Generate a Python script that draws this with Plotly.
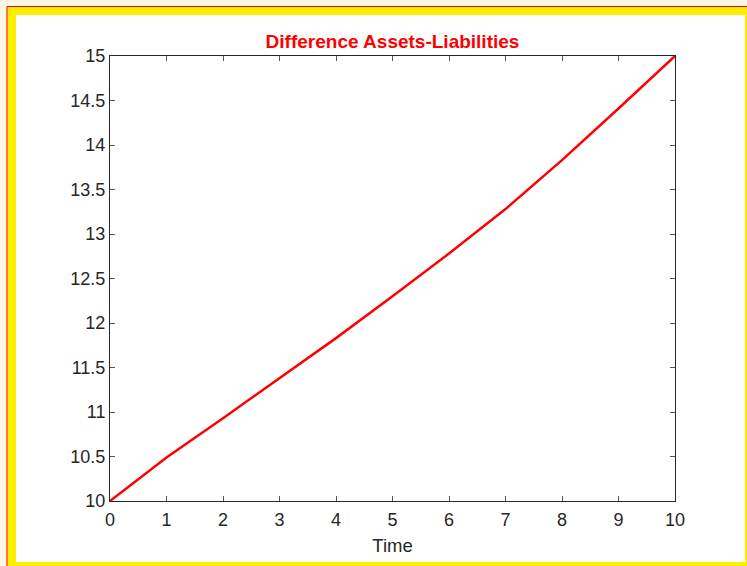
import plotly.graph_objects as go

# Difference between assets and liabilities over time
time = [0, 1, 2, 3, 4, 5, 6, 7, 8, 9, 10]
difference = [10.0, 10.49, 10.93, 11.38, 11.83, 12.30, 12.78, 13.28, 13.83, 14.41, 15.0]

x_ticks = list(range(0, 11))
y_ticks = [10, 10.5, 11, 11.5, 12, 12.5, 13, 13.5, 14, 14.5, 15]
y_tick_text = ["10", "10.5", "11", "11.5", "12", "12.5", "13", "13.5", "14", "14.5", "15"]

W, H = 747, 566
L, R, T, B = 110, 72, 56, 65
PW, PH = W - L - R, H - T - B
FONT = "Liberation Sans, Arial, sans-serif"


def px(x):
    return (x - L) / PW


def py(y):
    return (H - B - y) / PH


fig = go.Figure()
fig.add_trace(go.Scatter(
    x=time, y=difference, mode="lines",
    line=dict(color="#ff0000", width=2.5),
    showlegend=False,
))

axis_common = dict(
    showgrid=False, zeroline=False,
    showline=True, linecolor="#262626", linewidth=1,
    mirror="allticks", ticks="inside", ticklen=5, tickcolor="#555555",
    tickfont=dict(family=FONT, size=18, color="#262626"),
)

fig.update_layout(
    width=W, height=H,
    margin=dict(l=L, r=R, t=T, b=B),
    paper_bgcolor="#fdf5e6",
    plot_bgcolor="#ffffff",
    title=dict(
        text="<b>Difference Assets-Liabilities</b>",
        font=dict(family=FONT, size=19, color="#ff0000"),
        x=px(392.5), xref="paper", xanchor="center",
        y=1 - 41 / H, yref="container", yanchor="middle",
    ),
    xaxis=dict(
        range=[0, 10], tickvals=x_ticks,
        ticklabelstandoff=2,
        title=dict(text="Time", font=dict(family=FONT, size=18.5, color="#262626"), standoff=10),
        **axis_common,
    ),
    yaxis=dict(
        range=[10, 15], tickvals=y_ticks, ticktext=y_tick_text,
        **axis_common,
    ),
    shapes=[
        # red outline with yellow frame
        dict(type="rect", xref="paper", yref="paper", layer="below",
             x0=px(7), x1=px(800), y0=py(600), y1=py(6.5),
             fillcolor="#ffee00", line=dict(color="#ff0000", width=1)),
        # white figure area
        dict(type="rect", xref="paper", yref="paper", layer="below",
             x0=px(16), x1=px(745), y0=py(562), y1=py(15),
             fillcolor="#ffffff", line=dict(width=0)),
    ],
)

fig.write_html("out.html")
